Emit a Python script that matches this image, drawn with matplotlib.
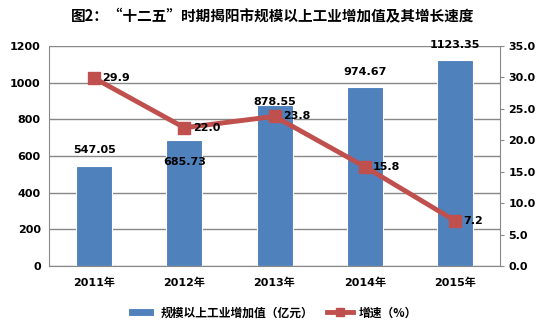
import matplotlib.pyplot as plt

plt.rcParams['font.family'] = ['DejaVu Sans', 'Noto Sans CJK SC']

years = ['2011年', '2012年', '2013年', '2014年', '2015年']
value = [547.05, 685.73, 878.55, 974.67, 1123.35]
growth = [29.9, 22.0, 23.8, 15.8, 7.2]
value_labels = ['547.05', '685.73', '878.55', '974.67', '1123.35']
growth_labels = ['29.9', '22.0', '23.8', '15.8', '7.2']

# label offsets (points) to mimic the original placement
bar_off = [11, -16, 2, 11, 11]

fig = plt.figure(figsize=(5.46, 3.34), dpi=100)
ax = fig.add_axes([0.0897, 0.2036, 0.8263, 0.6587])
x = list(range(len(years)))

bars = ax.bar(x, value, width=0.4, color='#4F81BD', edgecolor='white',
              linewidth=0.8, zorder=2, label='规模以上工业增加值（亿元）')
ax.set_ylim(0, 1200)
ax.set_xlim(-0.5, 4.5)
ax.set_yticks(range(0, 1201, 200))
ax.grid(axis='y', color='#888888', linewidth=1, zorder=0)
ax.tick_params(axis='y', length=0, pad=6)
ax.tick_params(axis='x', length=0, pad=8)
ax.set_xticks(x)
ax.set_xticklabels(years, family=['DejaVu Sans', 'Noto Sans CJK SC'])
for lbl in ax.get_xticklabels() + ax.get_yticklabels():
    lbl.set_fontweight('bold')
    lbl.set_fontsize(8)
for s in ['top', 'right']:
    ax.spines[s].set_visible(False)
for s in ['left', 'bottom']:
    ax.spines[s].set_color('#888888')

for i, v in enumerate(value):
    ax.annotate(value_labels[i], (x[i], v), xytext=(0, bar_off[i]),
                textcoords='offset points', ha='center', va='center',
                fontsize=8, fontweight='bold', zorder=5)

ax2 = ax.twinx()
ax2.set_ylim(0, 35)
ax2.set_yticks([0, 5, 10, 15, 20, 25, 30, 35])
ax2.set_yticklabels(['%.1f' % t for t in [0, 5, 10, 15, 20, 25, 30, 35]])
line, = ax2.plot(x, growth, color='#C0504D', linewidth=3.5, marker='s',
                 markersize=8, zorder=3, label='增速（%）')
for i, g in enumerate(growth):
    ax2.annotate(growth_labels[i], (x[i], g), xytext=(6, 0),
                 textcoords='offset points', ha='left', va='center',
                 fontsize=8, fontweight='bold')
ax2.tick_params(axis='y', length=3, color='#888888', pad=3)
for lbl in ax2.get_yticklabels():
    lbl.set_fontweight('bold')
    lbl.set_fontsize(8)
for s in ['top', 'left', 'bottom']:
    ax2.spines[s].set_visible(False)
ax2.spines['right'].set_color('#888888')

fig.text(0.5, 0.952, '图2：“十二五”时期揭阳市规模以上工业增加值及其增长速度',
         ha='center', va='center', fontsize=10.5, fontweight='bold',
         family=['Noto Sans CJK SC', 'DejaVu Sans'])

h1, l1 = ax.get_legend_handles_labels()
h2, l2 = ax2.get_legend_handles_labels()
leg = fig.legend(h1 + h2, l1 + l2, loc='center', bbox_to_anchor=(0.5, 0.063),
                 ncol=2, frameon=False, handlelength=2.2, handletextpad=0.5,
                 columnspacing=1.2, markerscale=0.75,
                 prop={'family': ['Noto Sans CJK SC', 'DejaVu Sans'],
                       'weight': 'bold', 'size': 8.5})

fig.savefig('out.png', dpi=100)
